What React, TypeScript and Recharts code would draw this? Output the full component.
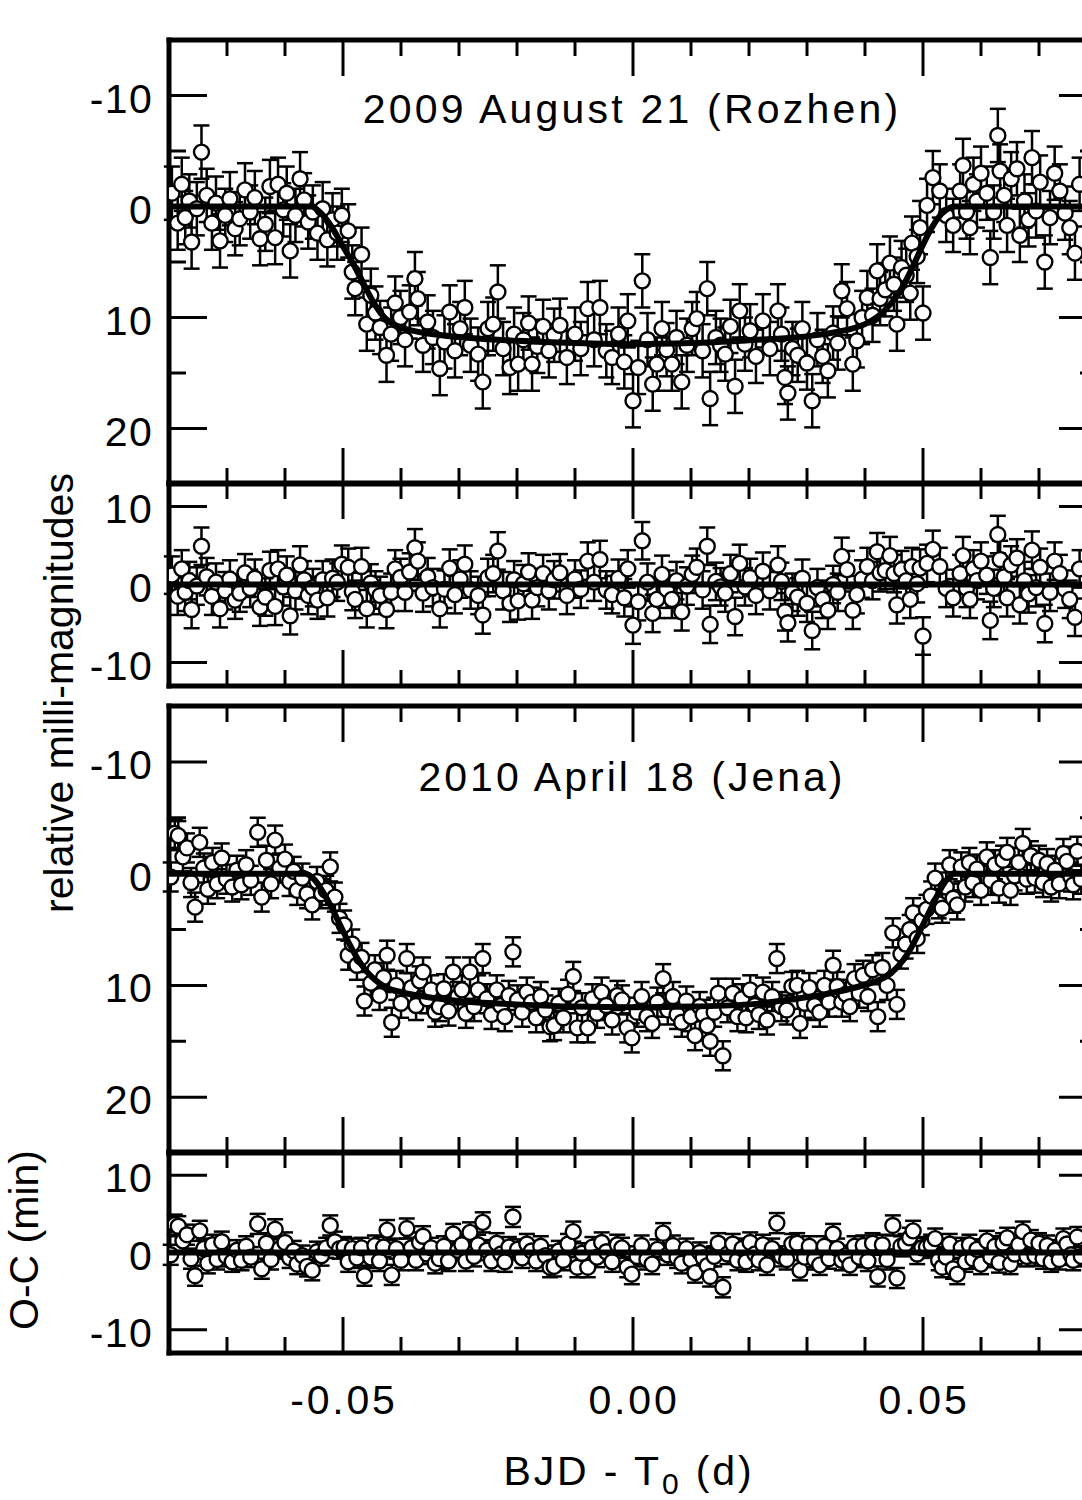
import React from 'react';
import { ComposedChart, Scatter, Line, XAxis, YAxis, ErrorBar } from 'recharts';

const FONT = '"Liberation Sans", Arial, Helvetica, sans-serif';

// ---- axis ticks ----
const xTicks = [-0.08, -0.07, -0.06, -0.05, -0.04, -0.03, -0.02, -0.01, 0, 0.01, 0.02, 0.03, 0.04, 0.05, 0.06, 0.07, 0.08];
const xMajor = [-0.05, 0, 0.05];
const lcTicks = [-10, -5, 0, 5, 10, 15, 20];
const lcMajor = [-10, 0, 10, 20];
const resTicks = [-10, 0, 10];

// ---- 2009 August 21 (Rozhen) ----
const rozhenErr = 2.4;
const rozhenT = [
  -0.0795, -0.0785, -0.0778, -0.0772, -0.0765, -0.0761, -0.0752, -0.0744, -0.0735, -0.0726,
  -0.0719, -0.0712, -0.0703, -0.0695, -0.0686, -0.0678, -0.0669, -0.066, -0.0652, -0.0643,
  -0.0634, -0.0626, -0.0617, -0.0612, -0.0603, -0.0597, -0.0591, -0.0582, -0.0574, -0.0567,
  -0.056, -0.0552, -0.0544, -0.0535, -0.0527, -0.0518, -0.051, -0.0502, -0.0491, -0.0484,
  -0.0479, -0.0468, -0.0459, -0.0452, -0.0444, -0.0436, -0.0425, -0.0417, -0.041, -0.0401,
  -0.0393, -0.0385, -0.0376, -0.0371, -0.0362, -0.0354, -0.0345, -0.0333, -0.0325, -0.0316,
  -0.0307, -0.0298, -0.029, -0.028, -0.0267, -0.0259, -0.025, -0.0241, -0.0233, -0.0224,
  -0.0212, -0.0205, -0.0198, -0.0189, -0.018, -0.0174, -0.0165, -0.0155, -0.0145, -0.0136,
  -0.0126, -0.0114, -0.01, -0.009, -0.0078, -0.0067, -0.0057, -0.0046, -0.0036, -0.0025,
  -0.0015, -0.0009, 0.0, 0.0009, 0.0016, 0.0025, 0.0034, 0.0041, 0.005, 0.0058,
  0.0067, 0.0075, 0.0084, 0.0093, 0.0102, 0.011, 0.012, 0.0128, 0.0133, 0.0143,
  0.0151, 0.0159, 0.0168, 0.0176, 0.0184, 0.0193, 0.0202, 0.0212, 0.0224, 0.0236,
  0.025, 0.0256, 0.0262, 0.0267, 0.0275, 0.0284, 0.0292, 0.03, 0.0309, 0.0318,
  0.0327, 0.0336, 0.0345, 0.0353, 0.036, 0.0369, 0.0379, 0.0386, 0.0395, 0.0404,
  0.0413, 0.0421, 0.0426, 0.0435, 0.0443, 0.045, 0.0455, 0.0463, 0.0471, 0.0478,
  0.0481, 0.049, 0.0495, 0.05, 0.0507, 0.0517, 0.0529, 0.054, 0.0552, 0.0564,
  0.0569, 0.0575, 0.0581, 0.0587, 0.0593, 0.06, 0.061, 0.0616, 0.0622, 0.0629,
  0.0633, 0.064, 0.0645, 0.0652, 0.0662, 0.0667, 0.0675, 0.0682, 0.0688, 0.0695,
  0.0702, 0.071, 0.0719, 0.0727, 0.0736, 0.0745, 0.0753, 0.0762, 0.077,
];
const rozhenMag = [
  -1.2, 1.5, -2.0, 1.0, -0.5, 3.2, 0.2, -4.9, -1.0, 1.5,
  -0.3, 3.1, 0.8, -0.7, 2.0, 1.1, -1.5, 0.5, -0.8, 2.9,
  1.6, -1.8, 2.8, -2.0, 0.3, -1.2, 4.0, 0.8, -2.5, -0.6,
  1.4, 0.5, 2.4, 0.2, 3.0, 1.2, 2.4, 0.8, 2.2, 5.9,
  7.4, 4.3, 10.6, 8.0, 9.6, 10.9, 13.4, 11.5, 8.7, 10.0,
  12.0, 9.5, 6.5, 8.3, 12.5, 10.4, 11.8, 14.6, 12.2, 9.5,
  13.0, 11.0, 9.1, 12.5, 13.3, 15.8, 11.0, 10.6, 7.7, 12.8,
  14.5, 11.5, 14.2, 12.0, 10.5, 14.2, 12.6, 10.8, 13.0, 11.6,
  10.7, 13.6, 11.5, 12.8, 9.2, 12.0, 9.1, 13.0, 13.6, 11.5,
  14.0, 10.3, 17.5, 14.5, 6.7, 12.0, 16.0, 14.2, 11.0, 12.9,
  14.2, 11.8, 15.8, 12.5, 11.0, 10.1, 13.0, 7.4, 17.3, 11.8,
  12.5, 13.3, 10.8, 16.2, 9.4, 12.4, 11.2, 13.5, 10.3, 12.8,
  9.4, 11.5, 15.4, 16.8, 12.8, 13.4, 11.0, 14.1, 17.5, 12.0,
  13.5, 14.8, 11.4, 12.3, 7.6, 9.2, 14.2, 12.1, 10.0, 8.2,
  9.8, 5.8, 8.3, 7.5, 5.1, 7.0, 10.6, 5.5, 6.2, 7.8,
  3.3, 4.5, 1.9, 9.6, -0.1, -2.6, -1.4, 0.8, 1.7, -1.4,
  -3.7, 0.5, 1.9, -2.0, -0.5, -3.0, -1.2, 4.6, 0.5, -6.4,
  -3.2, -1.0, 1.7, -2.5, -3.4, 2.6, -0.5, 1.2, -4.4, 0.4,
  -2.2, 5.0, 1.0, -3.0, -1.4, 0.6, 1.9, 4.2, -2.0,
];
const rozhenRes = [
  1.2, -1.5, 2.0, -1.0, 0.5, -3.2, -0.2, 4.9, 1.0, -1.5,
  0.3, -3.1, -0.8, 0.7, -2.0, -1.1, 1.5, -0.5, 0.8, -2.9,
  -1.6, 1.8, -2.8, 2.0, -0.3, 1.2, -4.0, -0.8, 2.5, 0.6,
  -1.4, -0.4, -2.0, 0.6, -1.7, 0.8, 0.3, 2.6, 2.2, -0.9,
  -1.9, 2.3, -3.1, 0.2, -0.7, -1.4, -3.2, -1.0, 2.0, 0.9,
  -1.0, 1.6, 4.7, 3.0, -1.1, 1.0, -0.4, -3.1, -0.6, 2.1,
  -1.3, 0.7, 2.6, -0.7, -1.4, -3.9, 0.9, 1.4, 4.3, -0.8,
  -2.4, 0.6, -2.1, 0.1, 1.6, -2.0, -0.4, 1.4, -0.8, 0.6,
  1.5, -1.4, 0.7, -0.6, 3.0, 0.3, 3.2, -0.7, -1.3, 0.8,
  -1.7, 2.0, -5.2, -2.2, 5.6, 0.3, -3.7, -1.9, 1.3, -0.6,
  -1.9, 0.5, -3.5, -0.2, 1.3, 2.2, -0.7, 4.9, -5.1, 0.4,
  -0.3, -1.1, 1.4, -4.1, 2.7, -0.3, 0.9, -1.4, 1.7, -0.8,
  2.5, 0.4, -3.5, -4.9, -1.0, -1.6, 0.8, -2.4, -5.9, -0.4,
  -1.9, -3.3, 0.0, -1.0, 3.6, 1.9, -3.3, -1.3, 0.7, 2.3,
  0.5, 4.2, 1.5, 1.8, 3.7, 1.4, -2.6, 1.9, 0.5, -1.9,
  2.3, 0.1, 2.1, -6.6, 2.7, 4.5, 2.3, -0.5, -1.7, 1.4,
  3.7, -0.5, -1.9, 2.0, 0.5, 3.0, 1.2, -4.6, -0.5, 6.4,
  3.2, 1.0, -1.7, 2.5, 3.4, -2.6, 0.5, -1.2, 4.4, -0.4,
  2.2, -5.0, -1.0, 3.0, 1.4, -0.6, -1.9, -4.2, 2.0,
];
const rozhenModelT = [
  -0.08, -0.0555, -0.054, -0.052, -0.05, -0.048, -0.0465, -0.045, -0.0435, -0.042, -0.04, -0.037,
  -0.033, -0.028, -0.02, -0.01, 0, 0.01, 0.02, 0.028, 0.033, 0.037, 0.04, 0.042, 0.0435, 0.045,
  0.0465, 0.048, 0.0495, 0.051, 0.0525, 0.054, 0.0555, 0.08,
];
const rozhenModelMag = [
  0, 0, 0.5, 1.8, 3.6, 5.4, 6.9, 8.4, 9.6, 10.4, 10.9, 11.3,
  11.6, 11.85, 12.1, 12.3, 12.4, 12.3, 12.05, 11.8, 11.5, 11.1, 10.6, 10.0, 9.3, 8.4,
  7.2, 5.7, 4.0, 2.4, 1.1, 0.3, 0, 0,
];

// ---- 2010 April 18 (Jena) ----
const jenaErr = 1.3;
const jenaT = [
  -0.0797, -0.079, -0.0784, -0.0776, -0.0769, -0.0762, -0.0755, -0.0747, -0.074, -0.0733,
  -0.0725, -0.0717, -0.0709, -0.0701, -0.0691, -0.0683, -0.0675, -0.0667, -0.0659, -0.0647,
  -0.064, -0.0632, -0.0624, -0.0617, -0.0609, -0.06, -0.0592, -0.0585, -0.0579, -0.057,
  -0.0562, -0.0553, -0.0545, -0.0537, -0.0529, -0.0522, -0.0514, -0.0506, -0.0498, -0.0491,
  -0.0484, -0.0476, -0.0468, -0.0463, -0.0452, -0.0445, -0.0437, -0.043, -0.0424, -0.0416,
  -0.0408, -0.04, -0.039, -0.0382, -0.0374, -0.0368, -0.0362, -0.0355, -0.0348, -0.0341,
  -0.0334, -0.0326, -0.0318, -0.031, -0.0302, -0.0295, -0.0288, -0.0281, -0.0274, -0.0267,
  -0.0259, -0.0252, -0.0244, -0.0235, -0.0228, -0.0221, -0.0214, -0.0207, -0.0199, -0.0191,
  -0.0183, -0.0175, -0.0167, -0.0159, -0.0151, -0.0143, -0.0136, -0.0128, -0.012, -0.0112,
  -0.0103, -0.0096, -0.0088, -0.0078, -0.007, -0.0062, -0.0054, -0.0046, -0.0036, -0.0027,
  -0.0019, -0.001, -0.0002, 0.0007, 0.0015, 0.0024, 0.0033, 0.0042, 0.0052, 0.006,
  0.0069, 0.0076, 0.0084, 0.0092, 0.01, 0.0107, 0.0115, 0.0121, 0.0128, 0.0133,
  0.014, 0.0147, 0.0155, 0.0163, 0.0172, 0.018, 0.0188, 0.0195, 0.0202, 0.021,
  0.0217, 0.0224, 0.0231, 0.024, 0.0248, 0.0256, 0.0265, 0.0274, 0.0283, 0.0288,
  0.0296, 0.0304, 0.0313, 0.0322, 0.033, 0.0338, 0.0345, 0.0352, 0.036, 0.0367,
  0.0374, 0.0382, 0.039, 0.0397, 0.0405, 0.0413, 0.0422, 0.043, 0.0438, 0.0448,
  0.0455, 0.0462, 0.047, 0.0477, 0.0483, 0.049, 0.0498, 0.0506, 0.0514, 0.0521,
  0.0527, 0.0533, 0.054, 0.0546, 0.0552, 0.0559, 0.0566, 0.0573, 0.058, 0.0586,
  0.0593, 0.06, 0.061, 0.0617, 0.0624, 0.0631, 0.0638, 0.0645, 0.0651, 0.0658,
  0.0665, 0.0672, 0.0679, 0.0686, 0.0693, 0.07, 0.0707, 0.0714, 0.0721, 0.0728,
  0.0735, 0.0742, 0.0748, 0.0755, 0.0759, 0.0766, 0.0773,
];
const jenaMag = [
  0.3, -3.6, -3.4, -1.5, -2.3, 0.8, 3.0, -2.8, -0.5, 1.4,
  -1.0, 0.9, -1.4, 0.5, 1.2, -0.3, 1.0, -0.8, 0.6, -3.7,
  2.1, -1.2, 0.9, -3.0, -0.5, -1.3, 0.7, -0.2, 1.5, 0.4,
  1.8, 2.8, 0.7, 1.8, 1.5, -0.6, 2.1, 4.0, 4.6, 7.3,
  6.3, 8.2, 7.5, 11.4, 9.8, 8.6, 10.9, 9.3, 7.3, 13.3,
  10.0, 11.6, 7.6, 10.2, 11.8, 9.6, 8.8, 11.2, 10.4, 12.4,
  11.9, 10.3, 12.3, 8.8, 11.0, 10.4, 12.5, 8.8, 11.9, 10.4,
  7.6, 11.2, 12.6, 10.4, 11.8, 12.8, 10.9, 7.0, 11.3, 12.4,
  10.6, 11.5, 12.9, 11.0, 12.2, 13.7, 13.6, 11.6, 12.9, 10.8,
  9.2, 13.8, 12.0, 13.8, 11.2, 12.5, 10.6, 11.8, 13.1, 10.9,
  11.3, 13.8, 14.7, 12.4, 11.0, 12.8, 13.4, 11.5, 9.4, 12.2,
  11.0, 12.6, 13.3, 11.4, 12.8, 14.5, 11.9, 12.6, 13.6, 15.0,
  12.4, 10.7, 16.3, 12.0, 10.7, 12.8, 11.2, 12.9, 10.4, 11.8,
  12.6, 10.6, 13.1, 11.0, 7.6, 11.9, 12.2, 10.1, 10.0, 13.4,
  11.6, 10.2, 11.8, 12.4, 10.0, 11.5, 8.2, 10.1, 11.5, 10.8,
  11.9, 9.4, 10.7, 9.1, 11.0, 8.6, 12.8, 8.4, 10.0, 5.3,
  11.7, 7.2, 6.3, 5.0, 3.5, 5.8, 4.2, 3.2, 2.0, 0.4,
  2.7, 3.1, 1.2, -0.8, 2.2, 2.8, -0.6, 1.2, -1.0, 0.8,
  -0.4, 1.5, -1.5, 0.6, -0.8, 1.3, -1.2, -1.9, 1.5, 0.2,
  -1.0, -2.7, 0.5, -1.6, 0.4, -1.2, 0.8, -0.9, 1.2, -0.3,
  0.9, -1.8, -1.1, 0.3, 1.0, -2.0, 0.5,
];
const jenaRes = [
  -0.3, 3.6, 3.4, 1.5, 2.3, -0.8, -3.0, 2.8, 0.5, -1.4,
  1.0, -0.9, 1.4, -0.5, -1.2, 0.3, -1.0, 0.8, -0.6, 3.7,
  -2.1, 1.2, -0.9, 3.0, 0.5, 1.3, -0.7, 0.2, -1.5, -0.4,
  -1.8, -2.3, 0.1, -0.4, 0.6, 3.5, 1.4, 0.5, 0.7, -1.2,
  0.5, -0.7, 0.6, -3.0, -0.7, 0.9, -1.1, 0.7, 2.9, -2.9,
  0.5, -1.0, 3.1, 0.6, -1.0, 1.3, 2.1, -0.2, 0.6, -1.4,
  -0.8, 0.8, -1.1, 2.4, 0.3, 1.0, -1.1, 2.6, -0.5, 1.0,
  3.9, 0.3, -1.1, 1.2, -0.2, -1.2, 0.7, 4.6, 0.4, -0.7,
  1.1, 0.2, -1.1, 0.8, -0.4, -1.9, -1.8, 0.2, -1.0, 1.1,
  2.7, -1.9, -0.1, -1.9, 0.7, -0.6, 1.3, 0.1, -1.2, 1.0,
  0.6, -1.9, -2.8, -0.5, 0.9, -0.9, -1.5, 0.4, 2.5, -0.3,
  0.9, -0.7, -1.4, 0.5, -0.9, -2.6, 0.0, -0.7, -1.7, -3.1,
  -0.5, 1.2, -4.5, -0.2, 1.1, -1.0, 0.5, -1.2, 1.3, -0.2,
  -1.0, 1.0, -1.6, 0.5, 3.8, -0.5, -0.9, 1.1, 1.2, -2.3,
  -0.6, 0.8, -0.9, -1.6, 0.8, -0.8, 2.4, 0.5, -1.0, -0.4,
  -1.6, 0.8, -0.6, 0.9, -1.1, 1.2, -3.1, 1.0, -0.9, 3.5,
  -3.3, 0.8, 1.1, 1.9, 2.8, -0.2, 0.6, 0.7, 1.0, 1.8,
  -1.0, -1.9, -0.6, 1.1, -2.1, -2.8, 0.6, -1.2, 1.0, -0.8,
  0.4, -1.5, 1.5, -0.6, 0.8, -1.3, 1.2, 1.9, -1.5, -0.2,
  1.0, 2.7, -0.5, 1.6, -0.4, 1.2, -0.8, 0.9, -1.2, 0.3,
  -0.9, 1.8, 1.1, -0.3, -1.0, 2.0, -0.5,
];
const jenaModelT = [
  -0.08, -0.0565, -0.055, -0.0535, -0.052, -0.0505, -0.049, -0.0475, -0.046, -0.0445, -0.0425,
  -0.04, -0.036, -0.03, -0.02, -0.01, 0, 0.01, 0.02, 0.028, 0.034, 0.039, 0.042, 0.0445,
  0.0465, 0.048, 0.0495, 0.051, 0.0525, 0.054, 0.0555, 0.08,
];
const jenaModelMag = [
  0, 0, 0.5, 1.6, 3.0, 4.6, 6.2, 7.6, 8.7, 9.5, 10.2,
  10.6, 11.0, 11.4, 11.7, 11.9, 11.95, 11.9, 11.7, 11.2, 10.7, 10.1, 9.6, 8.9,
  7.8, 6.6, 5.1, 3.5, 1.9, 0.6, 0, 0,
];

// residual zero level
const zeroT = [-0.08, 0.08];
const zeroV = [0, 0];

const pts = (t: number[], v: number[], err: number) => t.map((x, i) => ({ t: x, v: v[i], err }));
const curve = (t: number[], v: number[]) => t.map((x, i) => ({ t: x, v: v[i] }));

const CHART_W = 1120;
const LEFT_W = 169;
const PLOT_W = 928;
const RIGHT_W = CHART_W - LEFT_W - PLOT_W;
const MT = 4;
const MB = 4;

const isMajor = (list: number[], v: number) => list.some((m) => Math.abs(m - v) < 1e-9);

function XTick(props: any) {
  const { x, y, payload, side, withLabel } = props;
  const v = payload.value;
  const major = isMajor(xMajor, v);
  const len = major ? 36 : 16;
  const dy = side === 'top' ? len : -len;
  return (
    <g>
      <line x1={x} x2={x} y1={y} y2={y + dy} stroke="#000" strokeWidth={3} />
      {withLabel && major ? (
        <text
          x={x + 1}
          y={y + 61}
          textAnchor="middle"
          fontFamily={FONT}
          fontSize={41}
          letterSpacing={2.8}
          fill="#000"
        >
          {v.toFixed(2)}
        </text>
      ) : null}
    </g>
  );
}

function YTick(props: any) {
  const { x, y, payload, side, majors } = props;
  const v = payload.value;
  const major = isMajor(majors, v);
  const len = major ? 38 : 17;
  const dx = side === 'left' ? len : -len;
  return (
    <g>
      <line x1={x} x2={x + dx} y1={y} y2={y} stroke="#000" strokeWidth={3} />
      {side === 'left' && major ? (
        <text
          x={x - 16}
          y={y + 17}
          textAnchor="end"
          fontFamily={FONT}
          fontSize={41}
          letterSpacing={1.3}
          fill="#000"
        >
          {String(v)}
        </text>
      ) : null}
    </g>
  );
}

const renderCircle = (p: any) => (
  <circle cx={p.cx} cy={p.cy} r={7.5} fill="#fff" stroke="#000" strokeWidth={2.4} />
);

const frame = { stroke: '#000', strokeWidth: 5, strokeLinecap: 'square' as const };
const noTick = () => <g />;

interface PanelProps {
  top: number;
  plotH: number;
  data: { t: number; v: number; err: number }[];
  model: { t: number; v: number }[];
  domain: [number, number];
  reversed: boolean;
  yTicks: number[];
  yMajor: number[];
  bottomH?: number;
  withXLabels?: boolean;
}

// axes shared by the data layer and the model layer of one panel
function axes(p: PanelProps, visible: boolean) {
  const bottomH = p.bottomH ?? 1;
  return [
    <XAxis
      key="xt"
      xAxisId="top"
      orientation="top"
      type="number"
      dataKey="t"
      domain={[-0.08, 0.08]}
      allowDataOverflow
      ticks={xTicks}
      interval={0}
      height={1}
      axisLine={visible ? frame : false}
      tickLine={false}
      tickSize={0}
      tickMargin={0}
      tick={visible ? (q: any) => <XTick {...q} side="top" /> : noTick}
    />,
    <XAxis
      key="xb"
      type="number"
      dataKey="t"
      domain={[-0.08, 0.08]}
      allowDataOverflow
      ticks={xTicks}
      interval={0}
      height={bottomH}
      axisLine={visible ? frame : false}
      tickLine={false}
      tickSize={0}
      tickMargin={0}
      tick={visible ? (q: any) => <XTick {...q} side="bottom" withLabel={p.withXLabels} /> : noTick}
    />,
    <YAxis
      key="yl"
      type="number"
      dataKey="v"
      domain={p.domain}
      reversed={p.reversed}
      allowDataOverflow
      ticks={p.yTicks}
      interval={0}
      width={LEFT_W}
      axisLine={visible ? frame : false}
      tickLine={false}
      tickSize={0}
      tickMargin={0}
      tick={visible ? (q: any) => <YTick {...q} side="left" majors={p.yMajor} /> : noTick}
    />,
    <YAxis
      key="yr"
      yAxisId="r"
      orientation="right"
      type="number"
      dataKey="v"
      domain={p.domain}
      reversed={p.reversed}
      allowDataOverflow
      ticks={p.yTicks}
      interval={0}
      width={RIGHT_W}
      axisLine={visible ? frame : false}
      tickLine={false}
      tickSize={0}
      tickMargin={0}
      tick={visible ? (q: any) => <YTick {...q} side="right" majors={p.yMajor} /> : noTick}
    />,
  ];
}

function Panel(p: PanelProps) {
  const bottomH = p.bottomH ?? 1;
  const h = MT + 1 + p.plotH + bottomH + MB;
  const margin = { top: MT, right: 0, bottom: MB, left: 0 };
  return (
    <div style={{ position: 'absolute', left: 0, top: p.top - MT - 1, width: CHART_W, height: h }}>
      <div style={{ position: 'absolute', left: 0, top: 0 }}>
        <ComposedChart width={CHART_W} height={h} margin={margin}>
          {axes(p, true)}
          <Scatter data={p.data} shape={renderCircle} isAnimationActive={false}>
            <ErrorBar dataKey="err" direction="y" width={8} stroke="#000" strokeWidth={2.5} />
          </Scatter>
        </ComposedChart>
      </div>
      {/* model curve drawn over the points, as in the original figure */}
      <div style={{ position: 'absolute', left: 0, top: 0 }}>
        <ComposedChart width={CHART_W} height={h} margin={margin}>
          {axes(p, false)}
          <Line
            data={p.model}
            dataKey="v"
            type="monotone"
            stroke="#000"
            strokeWidth={6}
            dot={false}
            activeDot={false}
            isAnimationActive={false}
          />
        </ComposedChart>
      </div>
    </div>
  );
}

export default function App() {
  const textStyle = { fontFamily: FONT, fontSize: 41, fill: '#000' };
  return (
    <div
      style={{
        position: 'absolute',
        left: 0,
        top: 0,
        width: 1082,
        height: 1500,
        overflow: 'hidden',
        background: '#fff',
      }}
    >
      <Panel
        top={40}
        plotH={444}
        data={pts(rozhenT, rozhenMag, rozhenErr)}
        model={curve(rozhenModelT, rozhenModelMag)}
        domain={[-15, 25]}
        reversed
        yTicks={lcTicks}
        yMajor={lcMajor}
      />
      <Panel
        top={483}
        plotH={203}
        data={pts(rozhenT, rozhenRes, rozhenErr)}
        model={curve(zeroT, zeroV)}
        domain={[-13, 13]}
        reversed={false}
        yTicks={resTicks}
        yMajor={resTicks}
      />
      <Panel
        top={706}
        plotH={447}
        data={pts(jenaT, jenaMag, jenaErr)}
        model={curve(jenaModelT, jenaModelMag)}
        domain={[-15, 25]}
        reversed
        yTicks={lcTicks}
        yMajor={lcMajor}
      />
      <Panel
        top={1152}
        plotH={201}
        data={pts(jenaT, jenaRes, jenaErr)}
        model={curve(zeroT, zeroV)}
        domain={[-13, 13]}
        reversed={false}
        yTicks={resTicks}
        yMajor={resTicks}
        bottomH={90}
        withXLabels
      />
      <svg
        width={1082}
        height={1500}
        style={{ position: 'absolute', left: 0, top: 0, pointerEvents: 'none' }}
      >
        <text x={632} y={123} textAnchor="middle" letterSpacing={3.2} {...textStyle}>
          2009 August 21 (Rozhen)
        </text>
        <text x={632} y={791} textAnchor="middle" letterSpacing={3} {...textStyle}>
          2010 April 18 (Jena)
        </text>
        <text x={73} y={693} textAnchor="middle" transform="rotate(-90 73 693)" {...textStyle}>
          relative milli-magnitudes
        </text>
        <text x={38} y={1240} textAnchor="middle" transform="rotate(-90 38 1240)" {...textStyle}>
          O-C (min)
        </text>
        <text x={629} y={1485} textAnchor="middle" letterSpacing={2.9} {...textStyle}>
          BJD - T
          <tspan fontSize={30} dy={9}>0</tspan>
          <tspan dy={-9}> (d)</tspan>
        </text>
      </svg>
    </div>
  );
}
